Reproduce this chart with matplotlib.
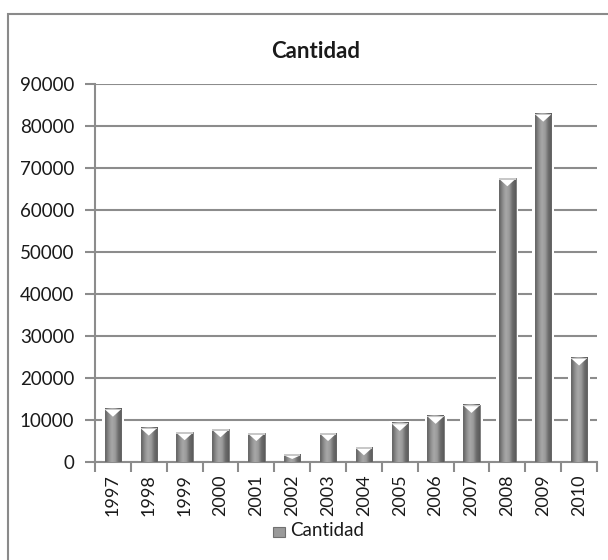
import matplotlib
matplotlib.use("Agg")
import matplotlib.pyplot as plt
import numpy as np
from matplotlib.patches import Rectangle, Polygon
from matplotlib.colors import LinearSegmentedColormap

plt.rcParams['font.family'] = ['Lato', 'DejaVu Sans']

years = ['1997', '1998', '1999', '2000', '2001', '2002', '2003',
         '2004', '2005', '2006', '2007', '2008', '2009', '2010']
cantidad = [12700, 8200, 7100, 7800, 6900, 1800, 6900,
            3500, 9300, 11000, 13600, 67600, 83000, 24900]
yticks = [0, 10000, 20000, 30000, 40000, 50000, 60000, 70000, 80000, 90000]

W, H = 608, 560
fig = plt.figure(figsize=(W / 100, H / 100), dpi=100)
ax = fig.add_axes([95 / W, 1 - 462 / H, (597 - 95) / W, (462 - 84.3) / H])

# outer chart border
fig.patches.append(Rectangle((7.5 / W, -0.1), 2, 1 - 14 / H + 0.1,
                             transform=fig.transFigure, fill=False,
                             edgecolor='#8a8a8a', lw=1.5))

ax.set_xlim(-0.5, len(years) - 0.5)
ax.set_ylim(0, 90000)

grey = LinearSegmentedColormap.from_list(
    'bar', ['#5e5e5e', '#8a8a8a', '#a8a8a8', '#9c9c9c', '#6c6c6c', '#5a5a5a'])
grad = np.linspace(0, 1, 64).reshape(1, -1)

bw = 0.46
px = 90000 / (462 - 84.3)  # data units per pixel
for i, v in enumerate(cantidad):
    x0, x1 = i - bw / 2, i + bw / 2
    # white halo that breaks the gridlines around each bar
    ax.add_patch(Rectangle((x0 - 0.08, 0), bw + 0.16, v + 2 * px,
                           facecolor='white', edgecolor='none', zorder=2))
    ax.imshow(grad, cmap=grey, extent=(x0, x1, 0, v), aspect='auto',
              interpolation='bicubic', zorder=3)
    ax.add_patch(Rectangle((x0, 0), bw, v, fill=False,
                           edgecolor='#6a6a6a', lw=0.6, zorder=4))
    cap = min(8 * px, 0.6 * v)
    ax.add_patch(Polygon([(x0 + 0.02, v - 1.2 * px), (x1 - 0.02, v - 1.2 * px),
                          (i, v - cap)],
                         closed=True, facecolor='white', edgecolor='none', zorder=5))
    ax.add_patch(Rectangle((x0, v - 1.5 * px), bw, 1.5 * px,
                           facecolor='#c8c8c8', edgecolor='none', zorder=5))

ax.set_yticks(yticks)
ax.set_yticklabels([str(t) for t in yticks])
ax.yaxis.grid(True, color='#8c8c8c', lw=1.5, zorder=1)
ax.set_axisbelow(True)

ax.set_xticks(range(len(years)))
ax.set_xticklabels(years, rotation=90)
ax.set_xticks(np.arange(-0.5, len(years)), minor=True)
ax.tick_params(axis='x', which='major', length=0, pad=9, labelsize=13, colors='#1a1a1a')
ax.tick_params(axis='x', which='minor', length=7, width=1.5, color='#8c8c8c')
ax.tick_params(axis='y', length=7, width=1.5, color='#8c8c8c', pad=8,
               labelsize=13.5, labelcolor='#1a1a1a')

for s in ['top', 'right']:
    ax.spines[s].set_visible(False)
for s in ['left', 'bottom']:
    ax.spines[s].set_color('#8c8c8c')
    ax.spines[s].set_linewidth(1.5)

fig.text(316 / W, 1 - 52 / H, 'Cantidad', ha='center', va='center',
         fontsize=16, fontweight='bold', color='#1a1a1a')

# legend: swatch plus label
fig.patches.append(Rectangle((273 / W, 1 - 537 / H), 12 / W, 10 / H,
                             transform=fig.transFigure, facecolor='#9a9a9a',
                             edgecolor='#707070', lw=0.8))
fig.text(290 / W, 1 - 531 / H, 'Cantidad', ha='left', va='center',
         fontsize=13.5, color='#1a1a1a')

fig.savefig('out.png', dpi=100)
